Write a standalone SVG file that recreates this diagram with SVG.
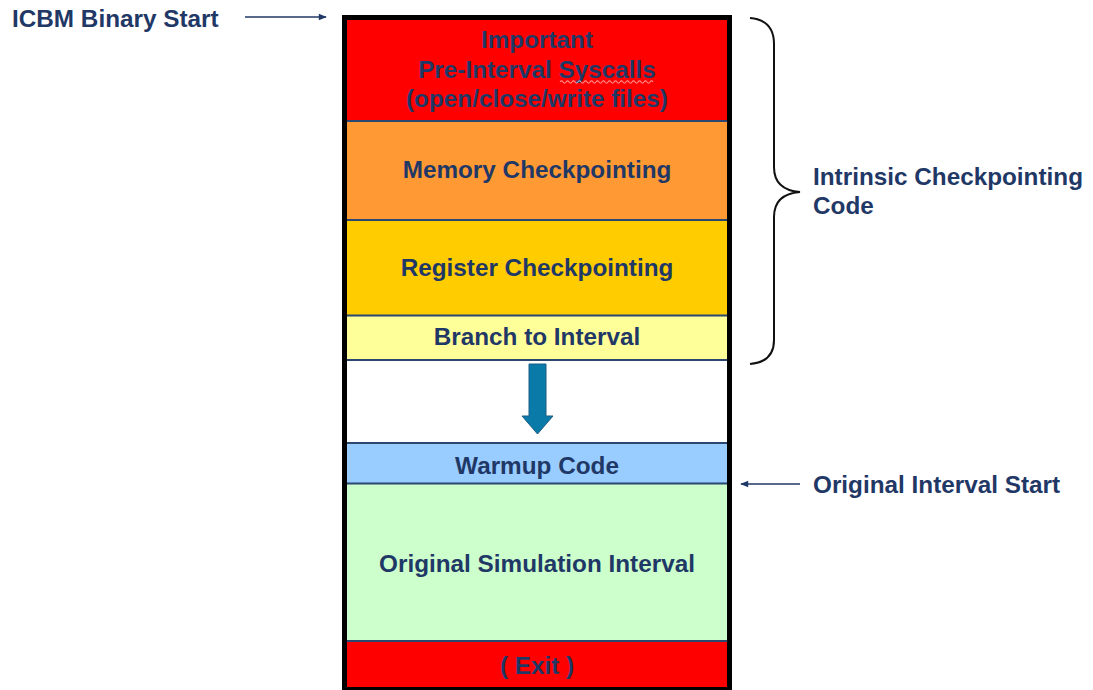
<svg xmlns="http://www.w3.org/2000/svg" width="1093" height="690" viewBox="0 0 1093 690">
  <style>
    .lbl { font-family: "Liberation Sans", Arial, sans-serif; font-weight: bold; font-size: 24.3px; fill: #1F3866; }
    .mid { text-anchor: middle; }
    .sep { stroke: #2B4670; stroke-width: 2; }
    .conn { stroke: #1F3866; stroke-width: 1.5; fill: none; }
  </style>
  <defs>
    <marker id="arrowHead" viewBox="0 0 10 10" refX="9" refY="5" markerWidth="9" markerHeight="8" orient="auto" markerUnits="userSpaceOnUse">
      <path d="M0,1 L10,5 L0,9 Z" fill="#1F3866"/>
    </marker>
  </defs>
  <rect width="1093" height="690" fill="#FFFFFF"/>

  <!-- memory layout sections -->
  <g id="syscalls">
    <rect x="344" y="18" width="386" height="103" fill="#FF0000"/>
    <text class="lbl mid" x="537" y="48">Important</text>
    <text class="lbl mid" x="537" y="78">Pre-Interval Syscalls</text>
    <path d="M560,82 q1.5,-2.2 3,0 t3,0 t3,0 t3,0 t3,0 t3,0 t3,0 t3,0 t3,0 t3,0 t3,0 t3,0 t3,0 t3,0 t3,0 t3,0 t3,0 t3,0 t3,0 t3,0 t3,0 t3,0 t3,0 t3,0 t3,0 t3,0 t3,0 t3,0 t3,0 t3,0 t3,0" fill="none" stroke="#FFFFFF" stroke-opacity="0.55" stroke-width="1.1"/>
    <text class="lbl mid" x="537" y="107">(open/close/write files)</text>
  </g>
  <g id="memory-checkpointing">
    <rect x="344" y="121" width="386" height="99" fill="#FF9933"/>
    <text class="lbl mid" x="537" y="178">Memory Checkpointing</text>
  </g>
  <g id="register-checkpointing">
    <rect x="344" y="220" width="386" height="95.5" fill="#FFCC00"/>
    <text class="lbl mid" x="537" y="276">Register Checkpointing</text>
  </g>
  <g id="branch">
    <rect x="344" y="315.5" width="386" height="44.5" fill="#FFFF99"/>
    <text class="lbl mid" x="537" y="345">Branch to Interval</text>
  </g>
  <g id="gap">
    <rect x="344" y="360" width="386" height="83" fill="#FFFFFF"/>
  </g>
  <g id="warmup">
    <rect x="344" y="443" width="386" height="40.5" fill="#99CCFF"/>
    <text class="lbl mid" x="537" y="474">Warmup Code</text>
  </g>
  <g id="simulation-interval">
    <rect x="344" y="483.5" width="386" height="157.5" fill="#CCFFCC"/>
    <text class="lbl mid" x="537" y="572">Original Simulation Interval</text>
  </g>
  <g id="exit">
    <rect x="344" y="641" width="386" height="52" fill="#FF0000"/>
    <text class="lbl mid" x="537" y="674">( Exit )</text>
  </g>

  <!-- section dividers and outer frame -->
  <g id="frame">
    <line class="sep" x1="346" y1="121" x2="728" y2="121"/>
    <line class="sep" x1="346" y1="220" x2="728" y2="220"/>
    <line class="sep" x1="346" y1="315.5" x2="728" y2="315.5"/>
    <line class="sep" x1="346" y1="360" x2="728" y2="360"/>
    <line class="sep" x1="346" y1="443" x2="728" y2="443"/>
    <line class="sep" x1="346" y1="483.5" x2="728" y2="483.5"/>
    <line class="sep" x1="346" y1="641" x2="728" y2="641"/>
    <rect x="344.5" y="17.5" width="385" height="672" fill="none" stroke="#000000" stroke-width="5"/>
  </g>

  <!-- labels outside the frame -->
  <g id="binary-start">
    <text class="lbl" x="12" y="27">ICBM Binary Start</text>
  </g>
  <g id="intrinsic-label">
    <text class="lbl" x="813" y="185">Intrinsic Checkpointing</text>
    <text class="lbl" x="813" y="214">Code</text>
  </g>
  <g id="interval-start">
    <text class="lbl" x="813" y="493">Original Interval Start</text>
  </g>

  <!-- connectors -->
  <g id="connectors">
    <line class="conn" x1="245" y1="17" x2="326" y2="17" marker-end="url(#arrowHead)"/>
    <line class="conn" x1="800" y1="484" x2="741" y2="484" marker-end="url(#arrowHead)"/>
    <path d="M750,18 Q774,20 774,44 L774,167 Q774,190 800,192 Q774,194 774,217 L774,340 Q774,362 750,364" fill="none" stroke="#111111" stroke-width="2"/>
    <path d="M529,364 L546,364 L546,416 L553,416 L537.5,434 L522,416 L529,416 Z" fill="#0A7BA8" stroke="#1D5E85" stroke-width="1"/>
  </g>
</svg>
